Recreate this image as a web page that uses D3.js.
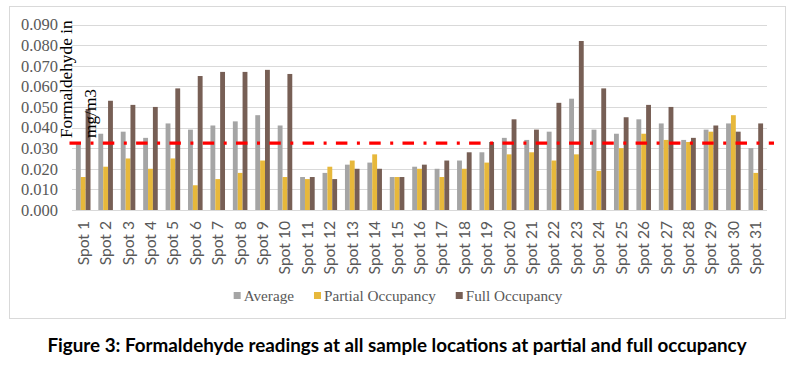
<!DOCTYPE html>
<html>
<head>
<meta charset="utf-8">
<script src="https://cdn.jsdelivr.net/npm/d3@7"></script>
<style>
  html, body { margin: 0; padding: 0; background: #fff; }
  svg { display: block; }
</style>
</head>
<body>
<svg id="chart" width="794" height="365"></svg>
<script>
// ---- data ----
const categories = ["Spot 1","Spot 2","Spot 3","Spot 4","Spot 5","Spot 6","Spot 7","Spot 8","Spot 9","Spot 10",
  "Spot 11","Spot 12","Spot 13","Spot 14","Spot 15","Spot 16","Spot 17","Spot 18","Spot 19","Spot 20",
  "Spot 21","Spot 22","Spot 23","Spot 24","Spot 25","Spot 26","Spot 27","Spot 28","Spot 29","Spot 30","Spot 31"];
const seriesNames = ["Average", "Partial Occupancy", "Full Occupancy"];
const average = [0.032,0.037,0.038,0.035,0.042,0.039,0.041,0.043,0.046,0.041,
  0.016,0.018,0.022,0.023,0.016,0.021,0.020,0.024,0.028,0.035,
  0.034,0.038,0.054,0.039,0.037,0.044,0.042,0.034,0.039,0.042,0.030];
const partial = [0.016,0.021,0.025,0.020,0.025,0.012,0.015,0.018,0.024,0.016,
  0.015,0.021,0.024,0.027,0.016,0.020,0.016,0.020,0.023,0.027,
  0.028,0.024,0.027,0.019,0.030,0.037,0.034,0.033,0.038,0.046,0.018];
const full = [0.049,0.053,0.051,0.050,0.059,0.065,0.067,0.067,0.068,0.066,
  0.016,0.015,0.020,0.020,0.016,0.022,0.024,0.028,0.033,0.044,
  0.039,0.052,0.082,0.059,0.045,0.051,0.050,0.035,0.041,0.038,0.042];
const limitValue = 0.0324;
const yTicks = [0,0.01,0.02,0.03,0.04,0.05,0.06,0.07,0.08,0.09];
const yTitleLines = ["Formaldehyde in", "mg/m3"];
const caption = "Figure 3: Formaldehyde readings at all sample locations at partial and full occupancy";

const colors = ["#A5A5A5", "#E7B83B", "#775F55"];
const seriesValues = [average, partial, full];

// ---- layout ----
const svg = d3.select("#chart");
const plot = { left: 72, right: 767, top: 24.5, bottom: 210 };

// chart frame
svg.append("rect").attr("x", 9.5).attr("y", 6.5).attr("width", 776).attr("height", 312)
  .attr("fill", "#fff").attr("stroke", "#D9D9D9").attr("stroke-width", 1);

const x0 = d3.scaleBand().domain(categories).range([plot.left, plot.right]).paddingInner(0.35).paddingOuter(0.175);
const x1 = d3.scaleBand().domain(seriesNames).range([0, x0.bandwidth()]).padding(0);
const y = d3.scaleLinear().domain([0, 0.09]).range([plot.bottom, plot.top]);

// gridlines
svg.append("g").selectAll("line").data(yTicks).join("line")
  .attr("x1", plot.left).attr("x2", plot.right)
  .attr("y1", d => Math.round(y(d)) + 0.5).attr("y2", d => Math.round(y(d)) + 0.5)
  .attr("stroke", "#D9D9D9").attr("stroke-width", 1);

// y axis labels
const yAxis = d3.axisLeft(y).tickValues(yTicks).tickFormat(d3.format(".3f")).tickSize(0).tickPadding(0);
const gy = svg.append("g").attr("transform", `translate(58,0)`).call(yAxis);
gy.select(".domain").remove();
gy.selectAll("text").attr("font-family", "'Liberation Serif', 'Times New Roman', serif")
  .attr("font-size", 16.5).attr("fill", "#595959");

// bars
const groups = svg.append("g").selectAll("g").data(categories).join("g")
  .attr("transform", d => `translate(${x0(d)},0)`);
groups.selectAll("rect").data((d, i) => seriesNames.map((s, k) => ({ s, v: seriesValues[k][i], k })))
  .join("rect")
  .attr("x", d => x1(d.s)).attr("width", x1.bandwidth())
  .attr("y", d => y(d.v)).attr("height", d => y(0) - y(d.v))
  .attr("fill", d => colors[d.k]);

// x axis
const xAxis = d3.axisBottom(x0).tickSize(0).tickPadding(0);
const gx = svg.append("g").attr("transform", `translate(0,${plot.bottom})`).call(xAxis);
gx.select(".domain").attr("stroke", "#D9D9D9").attr("d", `M${plot.left},0.5H${plot.right}`);
gx.selectAll("text")
  .attr("font-family", "Lato, 'Liberation Sans', Arial, sans-serif").attr("font-size", 15.6).attr("fill", "#595959")
  .attr("transform", "rotate(-90)")
  .attr("text-anchor", "end").attr("x", -11).attr("y", 0).attr("dy", "0.35em");

// limit line
svg.append("line")
  .attr("x1", 69.5).attr("x2", 774)
  .attr("y1", y(limitValue)).attr("y2", y(limitValue))
  .attr("stroke", "#FF0000").attr("stroke-width", 3.2)
  .attr("stroke-dasharray", "11.5,9.5,3,9.3");

// y title
const yt = svg.append("text")
  .attr("transform", "translate(72,138) rotate(-90)")
  .attr("font-family", "'Liberation Serif', 'Times New Roman', serif")
  .attr("font-size", 17.3).attr("fill", "#000");
yTitleLines.forEach((t, i) => {
  yt.append("tspan").attr("x", 0).attr("y", i * 24).text(t);
});

// legend
const legend = svg.append("g");
const items = legend.selectAll("g").data(seriesNames).join("g");
items.append("rect").attr("width", 7).attr("height", 7).attr("y", -3.5).attr("fill", (d, i) => colors[i]);
items.append("text").attr("x", 10).attr("dy", "0.33em")
  .attr("font-family", "'Liberation Serif', 'Times New Roman', serif")
  .attr("font-size", 15.2).attr("fill", "#595959").text(d => d);
let widths = [];
items.each(function() { widths.push(10 + d3.select(this).select("text").node().getComputedTextLength()); });
const gap = 20;
const total = d3.sum(widths) + gap * (widths.length - 1);
let cx = 398 - total / 2;
items.attr("transform", (d, i) => { const t = `translate(${cx},295.5)`; cx += widths[i] + gap; return t; });

// caption
const cap = svg.append("text").attr("x", 397).attr("y", 352).attr("text-anchor", "middle")
  .attr("font-family", "Lato, 'Liberation Sans', Arial, sans-serif").attr("font-weight", "bold")
  .attr("font-size", 16).attr("fill", "#000").text(caption);
const w = cap.node().getComputedTextLength();
cap.attr("font-size", 16 * 700 / w);
</script>
</body>
</html>
